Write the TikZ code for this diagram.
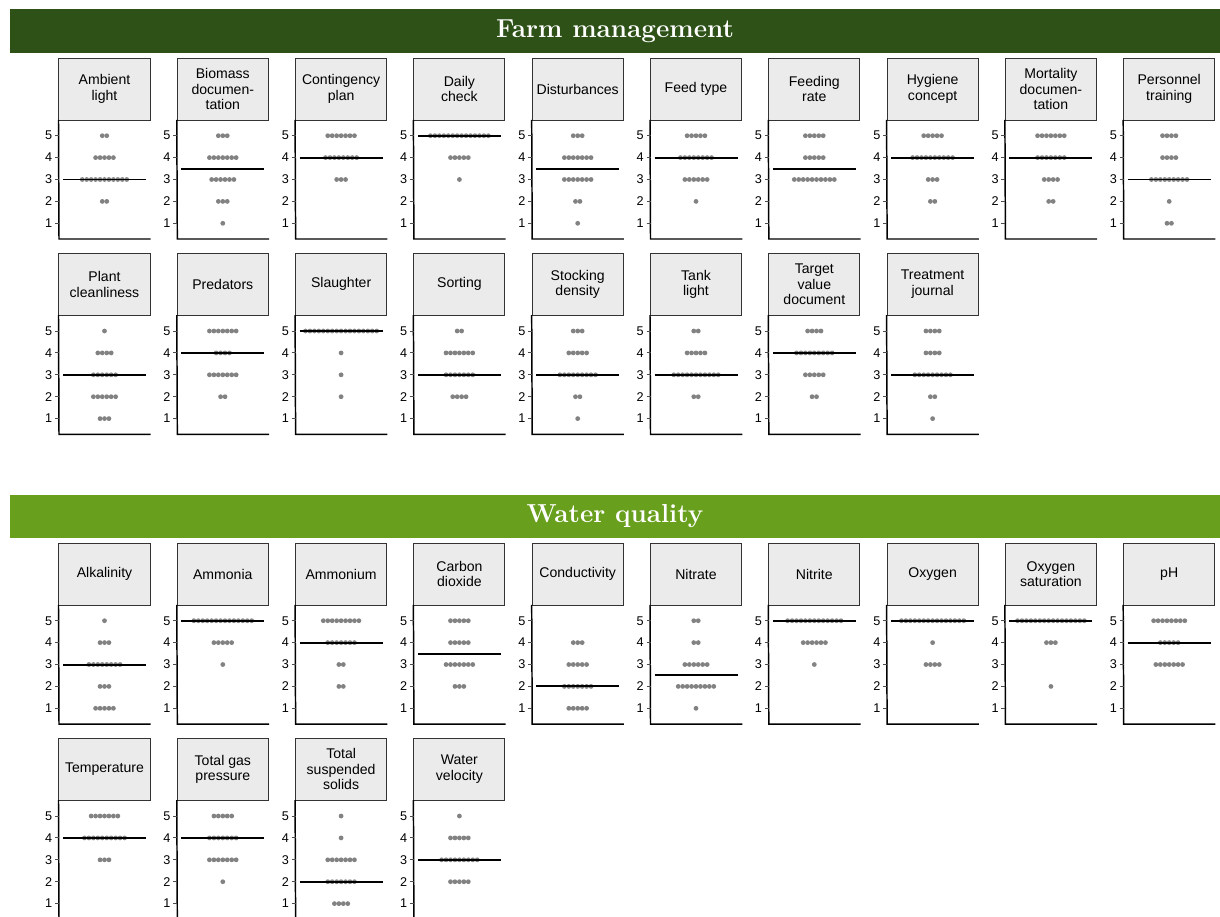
\documentclass[tikz,border=0pt]{standalone}
\usepackage{fontspec}
\setsansfont{Liberation Sans}
\usepackage{xcolor}

\definecolor{farmgreen}{RGB}{45,81,23}
\definecolor{watergreen}{RGB}{104,159,28}
\definecolor{stripgray}{RGB}{235,235,235}
\definecolor{dotgray}{RGB}{130,130,130}

\newcommand{\likertpanel}[6]{%
  \node[strip] (#1) at ({#2+45.5},{#3-150}) {#4};
  \draw[axisline] (#1.south west) -- ({#2},{#3}) -- ({#2+91},{#3});
  \foreach \lev in {1,...,5}{
    \draw[tickline] ({#2-4},{#3-15.7-(\lev-1)*21.9}) -- ({#2},{#3-15.7-(\lev-1)*21.9});
    \node[ticklabel] (#1-t\lev) at ({#2-6.5},{#3-15.7-(\lev-1)*21.9}) {\lev};
  }
  \foreach \cnt [count=\lev] in {#5}{
    \ifnum\cnt>0
      \foreach \k in {1,...,\cnt}
        \fill[dotgray] ({#2+45.5+(\k-(\cnt+1)/2)*4.45},{#3-15.7-(\lev-1)*21.9}) circle[radius=0.06cm];
    \fi
  }
  \draw[medianline] ({#2+4},{#3-15.7-(#6-1)*21.9}) -- ({#2+87},{#3-15.7-(#6-1)*21.9});
}

\begin{document}
\begin{tikzpicture}[x=0.025cm, y=-0.025cm,
    bar/.style={minimum width=30.25cm, minimum height=1.08cm, inner sep=0pt, text=white,
      font=\bfseries\fontsize{18.5}{21}\selectfont},
    strip/.style={draw=black!80, line width=0.7pt, fill=stripgray, minimum width=2.275cm,
      minimum height=1.55cm, inner sep=0pt, align=center,
      font=\sffamily\fontsize{10}{11}\selectfont},
    axisline/.style={line width=1.05pt, line cap=rect},
    tickline/.style={line width=0.6pt, black!70},
    ticklabel/.style={anchor=east, inner sep=0pt, font=\sffamily\fontsize{9}{10}\selectfont},
    medianline/.style={line width=1.4pt}
  ]
  \useasboundingbox (0,0) rectangle (1220,916);
  \clip (0,0) rectangle (1220,916);

  \node[bar, fill=farmgreen] (farmhead) at (615,31) {Farm management};
  \node[bar, fill=watergreen] (waterhead) at (615,516.5) {Water quality};

  % farm management
  \likertpanel{ambient}{59}{239}{Ambient\\light}{0,2,11,5,2}{3}
  \likertpanel{biomass}{59+118.3}{239}{Biomass\\documen-\\tation}{1,3,6,7,3}{3.5}
  \likertpanel{contingency}{59+118.3*2}{239}{Contingency\\plan}{0,0,3,8,7}{4}
  \likertpanel{daily}{59+118.3*3}{239}{Daily\\check}{0,0,1,5,14}{5}
  \likertpanel{disturb}{59+118.3*4}{239}{Disturbances}{1,2,7,7,3}{3.5}
  \likertpanel{feedtype}{59+118.3*5}{239}{Feed type}{0,1,6,8,5}{4}
  \likertpanel{feedrate}{59+118.3*6}{239}{Feeding\\rate}{0,0,10,5,5}{3.5}
  \likertpanel{hygiene}{59+118.3*7}{239}{Hygiene\\concept}{0,2,3,10,5}{4}
  \likertpanel{mortality}{59+118.3*8}{239}{Mortality\\documen-\\tation}{0,2,4,7,7}{4}
  \likertpanel{personnel}{59+118.3*9}{239}{Personnel\\training}{2,1,9,4,4}{3}

  \likertpanel{plant}{59}{434.3}{Plant\\cleanliness}{3,6,6,4,1}{3}
  \likertpanel{predators}{59+118.3}{434.3}{Predators}{0,2,7,4,7}{4}
  \likertpanel{slaughter}{59+118.3*2}{434.3}{Slaughter}{0,1,1,1,17}{5}
  \likertpanel{sorting}{59+118.3*3}{434.3}{Sorting}{0,4,7,7,2}{3}
  \likertpanel{stocking}{59+118.3*4}{434.3}{Stocking\\density}{1,2,9,5,3}{3}
  \likertpanel{tanklight}{59+118.3*5}{434.3}{Tank\\light}{0,2,11,5,2}{3}
  \likertpanel{target}{59+118.3*6}{434.3}{Target\\value\\document}{0,2,5,9,4}{4}
  \likertpanel{journal}{59+118.3*7}{434.3}{Treatment\\journal}{1,2,9,4,4}{3}

  % water quality
  \likertpanel{alkalinity}{59}{724}{Alkalinity}{5,3,8,3,1}{3}
  \likertpanel{ammonia}{59+118.3}{724}{Ammonia}{0,0,1,5,14}{5}
  \likertpanel{ammonium}{59+118.3*2}{724}{Ammonium}{0,2,2,7,9}{4}
  \likertpanel{carbon}{59+118.3*3}{724}{Carbon\\dioxide}{0,3,7,5,5}{3.5}
  \likertpanel{conduct}{59+118.3*4}{724}{Conductivity}{5,7,5,3,0}{2}
  \likertpanel{nitrate}{59+118.3*5}{724}{Nitrate}{1,9,6,2,2}{2.5}
  \likertpanel{nitrite}{59+118.3*6}{724}{Nitrite}{0,0,1,6,13}{5}
  \likertpanel{oxygen}{59+118.3*7}{724}{Oxygen}{0,0,4,1,15}{5}
  \likertpanel{oxysat}{59+118.3*8}{724}{Oxygen\\saturation}{0,1,0,3,16}{5}
  \likertpanel{ph}{59+118.3*9}{724}{pH}{0,0,7,5,8}{4}

  \likertpanel{temperature}{59}{919.3}{Temperature}{0,0,3,10,7}{4}
  \likertpanel{gaspressure}{59+118.3}{919.3}{Total gas\\pressure}{0,1,7,7,5}{4}
  \likertpanel{tss}{59+118.3*2}{919.3}{Total\\suspended\\solids}{4,7,7,1,1}{2}
  \likertpanel{velocity}{59+118.3*3}{919.3}{Water\\velocity}{0,5,9,5,1}{3}
\end{tikzpicture}
\end{document}
